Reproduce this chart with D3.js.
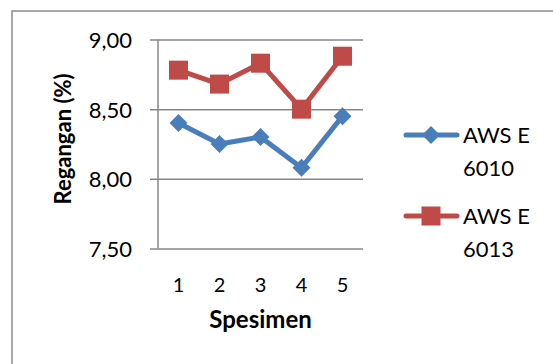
<!DOCTYPE html>
<html>
<head>
<meta charset="utf-8">
<script src="https://cdn.jsdelivr.net/npm/d3@7"></script>
<style>
  html, body { margin: 0; padding: 0; background: #fff; }
  svg { display: block; }
  text { font-family: Lato, "Open Sans", sans-serif; fill: #000; }
</style>
</head>
<body>
<svg id="chart" width="553" height="364"></svg>
<script>
// Strain per specimen for two electrode types
const specimens = [1, 2, 3, 4, 5];
const awsE6010 = [8.40, 8.25, 8.30, 8.08, 8.45];
const awsE6013 = [8.78, 8.68, 8.83, 8.50, 8.88];
const yTicks = [7.5, 8.0, 8.5, 9.0];
const seriesNames = [["AWS E", "6010"], ["AWS E", "6013"]];
const colors = ["#4A7EBB", "#BE4B48"];

const svg = d3.select("#chart");

// outer frame
svg.append("rect")
  .attr("x", 12).attr("y", 11)
  .attr("width", 600).attr("height", 400)
  .attr("fill", "none").attr("stroke", "#8c8c8c").attr("stroke-width", 1.5);

const plot = { left: 158, right: 363, top: 39.5, bottom: 248.5 };

const x = d3.scaleBand().domain(specimens).range([plot.left, plot.right]);
const y = d3.scaleLinear().domain([7.5, 9.0]).range([plot.bottom, plot.top]);
const fmt = v => d3.format(".2f")(v).replace(".", ",");

// horizontal gridlines + y tick labels
const yAxis = d3.axisLeft(y).tickValues(yTicks).tickFormat(fmt)
  .tickSize(-(plot.right - plot.left));
const gy = svg.append("g").attr("transform", `translate(${plot.left},0)`).call(yAxis);
gy.select(".domain").remove();
gy.selectAll(".tick line").attr("stroke", "#878787").attr("stroke-width", 1.5).attr("x1", -8);
gy.selectAll(".tick text").attr("font-size", 22).attr("x", -26).attr("dy", "0.36em")
  .style("font-family", "Lato, sans-serif").attr("fill", "#000");

// vertical axis line
svg.append("line")
  .attr("x1", plot.left).attr("x2", plot.left)
  .attr("y1", plot.top).attr("y2", plot.bottom)
  .attr("stroke", "#878787").attr("stroke-width", 1.5);

// x tick labels
const xAxis = d3.axisBottom(x).tickSize(0).tickPadding(0);
const gx = svg.append("g").attr("transform", `translate(0,${plot.bottom})`).call(xAxis);
gx.select(".domain").remove();
gx.selectAll(".tick text").attr("font-size", 20).attr("y", 43.5).attr("dy", 0)
  .style("font-family", "Lato, sans-serif").attr("fill", "#000");

// axis titles
svg.append("text")
  .attr("transform", `translate(71,139) rotate(-90)`)
  .attr("text-anchor", "middle")
  .attr("font-size", 22).attr("font-weight", "bold")
  .text("Regangan (%)");
svg.append("text")
  .attr("x", 260.5).attr("y", 328)
  .attr("text-anchor", "middle")
  .attr("font-size", 24).attr("font-weight", "bold")
  .text("Spesimen");

// series
const allSeries = [awsE6010, awsE6013];
const cx = d => x(d) + x.bandwidth() / 2;
const line = d3.line().x((d, i) => cx(specimens[i])).y(d => y(d));

function marker(g, type, color) {
  if (type === 0) {
    g.append("path").attr("d", "M0,-9L9,0L0,9L-9,0Z").attr("fill", color);
  } else {
    g.append("rect").attr("x", -9.5).attr("y", -9.5).attr("width", 19).attr("height", 19).attr("fill", color);
  }
}

allSeries.forEach((vals, s) => {
  svg.append("path")
    .datum(vals)
    .attr("d", line)
    .attr("fill", "none")
    .attr("stroke", colors[s])
    .attr("stroke-width", 5)
    .attr("stroke-linejoin", "round")
    .attr("stroke-linecap", "round");
  vals.forEach((v, i) => {
    const g = svg.append("g").attr("transform", `translate(${cx(specimens[i])},${y(v)})`);
    marker(g, s, colors[s]);
  });
});

// legend
const legendY = [135, 216];
seriesNames.forEach((name, s) => {
  const ly = legendY[s];
  svg.append("line")
    .attr("x1", 406).attr("x2", 457).attr("y1", ly).attr("y2", ly)
    .attr("stroke", colors[s]).attr("stroke-width", 5).attr("stroke-linecap", "round");
  const g = svg.append("g").attr("transform", `translate(431,${ly})`);
  marker(g, s, colors[s]);
  svg.append("text").attr("x", 463).attr("y", ly + 8)
    .attr("font-size", 22).text(name[0]);
  svg.append("text").attr("x", 463).attr("y", ly + 41)
    .attr("font-size", 22).text(name[1]);
});
</script>
</body>
</html>
